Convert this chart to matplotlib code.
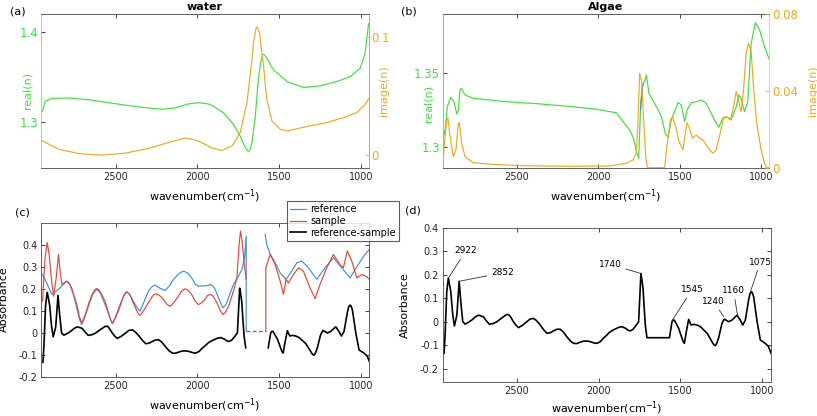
import numpy as np
import matplotlib.pyplot as plt

# ---- (a) water: refractive index ----
wa_re_wn = [2948, 2932, 2891, 2789, 2667, 2504, 2361, 2219, 2137, 2056, 1994, 1933, 1901,
            1840, 1779, 1738, 1707, 1695, 1687, 1678, 1666, 1646, 1626, 1612, 1601, 1590,
            1575, 1534, 1452, 1351, 1249, 1147, 1065, 1004, 974, 953]
wa_re = [1.3117, 1.3227, 1.326, 1.3265, 1.3246, 1.3202, 1.3166, 1.3139, 1.3154, 1.3199,
         1.3213, 1.3199, 1.3172, 1.310, 1.297, 1.284, 1.2713, 1.2680, 1.2669, 1.2690,
         1.2768, 1.306, 1.350, 1.367, 1.375, 1.3745, 1.3706, 1.3577, 1.3448, 1.3382,
         1.340, 1.3448, 1.3503, 1.3596, 1.3762, 1.409]
wa_im_wn = [2948, 2850, 2728, 2586, 2443, 2300, 2178, 2076, 2015, 1982, 1933, 1921, 1850,
            1788, 1738, 1697, 1666, 1656, 1646, 1641, 1636, 1631, 1620, 1612, 1595, 1585,
            1575, 1544, 1493, 1452, 1330, 1208, 1106, 1024, 974, 947]
wa_im = [0.0117, 0.0047, 0.001, -0.0004, 0.0013, 0.0053, 0.0103, 0.0142, 0.0125, 0.0108,
         0.0075, 0.0061, 0.0036, 0.0075, 0.0188, 0.0442, 0.081, 0.096, 0.1036, 0.1075,
         0.1086, 0.1075, 0.1036, 0.093, 0.0753, 0.060, 0.047, 0.0286, 0.0216, 0.0202,
         0.0239, 0.0273, 0.0315, 0.0358, 0.0428, 0.0485]

# ---- (b) algae: refractive index ----
al_re_wn = [2955, 2943, 2927, 2906, 2886, 2869, 2859, 2849, 2843, 2818, 2768, 2563, 2359,
            2155, 2012, 1890, 1849, 1808, 1786, 1763, 1753, 1742, 1730, 1716, 1706, 1690,
            1655, 1614, 1590, 1573, 1553, 1512, 1492, 1471, 1457, 1430, 1400, 1369, 1338,
            1288, 1261, 1237, 1206, 1186, 1155, 1139, 1125, 1104, 1084, 1063, 1037, 1012,
            981, 951]
al_re = [1.3125, 1.3079, 1.3271, 1.3335, 1.3305, 1.3222, 1.3249, 1.3385, 1.3396, 1.3351,
         1.3328, 1.3305, 1.329, 1.3271, 1.3254, 1.3230, 1.317, 1.3113, 1.3060, 1.2955,
         1.2921, 1.3249, 1.3419, 1.3441, 1.3486, 1.3362, 1.3294, 1.3204, 1.3091, 1.3064,
         1.3181, 1.3299, 1.3283, 1.317, 1.3249, 1.3299, 1.3305, 1.3317, 1.3294, 1.3181,
         1.3132, 1.3193, 1.32, 1.3181, 1.3271, 1.3351, 1.3328, 1.3237, 1.3305, 1.3701,
         1.3841, 1.3792, 1.3678, 1.3588]
al_im_wn = [2955, 2943, 2930, 2923, 2910, 2890, 2874, 2859, 2853, 2839, 2818, 2768, 2665,
            2461, 2155, 1930, 1829, 1788, 1768, 1757, 1747, 1735, 1722, 1710, 1700, 1594,
            1583, 1569, 1559, 1546, 1526, 1506, 1482, 1457, 1441, 1424, 1400, 1380, 1359,
            1318, 1298, 1278, 1253, 1232, 1212, 1191, 1171, 1155, 1139, 1125, 1110, 1094,
            1080, 1063, 1049, 1029, 1002, 981, 971, 951]
al_im = [0.0014, 0.0144, 0.0248, 0.0257, 0.0161, 0.0057, 0.0092, 0.0231, 0.0234, 0.0127,
         0.0057, 0.0026, 0.0018, 0.001, 0.0007, 0.0009, 0.0023, 0.004, 0.0075, 0.0248,
         0.0491, 0.0448, 0.0248, 0.0057, 0.0, 0.0, 0.0092, 0.0179, 0.0248, 0.0265, 0.0213,
         0.0135, 0.0092, 0.0234, 0.0205, 0.0153, 0.017, 0.0153, 0.0144, 0.0092, 0.0075,
         0.0092, 0.0179, 0.0262, 0.0265, 0.0248, 0.0318, 0.0396, 0.0344, 0.0291, 0.0404,
         0.0595, 0.0648, 0.0604, 0.0422, 0.0231, 0.0092, 0.0023, 0.0, 0.0]
al_blue_wn = [1742, 1733, 1724]
al_blue = [1.3249, 1.3390, 1.3430]

# ---- (c) absorbance ----
ref_wn = [2948, 2922, 2891, 2850, 2800, 2780, 2759, 2740, 2722, 2708, 2690, 2667, 2640,
          2616, 2595, 2565, 2540, 2520, 2500, 2473, 2450, 2433, 2412, 2392, 2368, 2351,
          2325, 2300, 2280, 2259, 2230, 2198, 2170, 2147, 2115, 2086, 2060, 2035, 2012,
          1994, 1933, 1921, 1905, 1891, 1865, 1844, 1825, 1809, 1779, 1754, 1727, 1711,
          1701, 1701, np.nan,
          1585, 1575, 1554, 1534, 1493, 1457, 1422, 1391, 1361, 1320, 1269, 1218, 1167,
          1116, 1065, 1015, 974, 947]
ref_abs = [0.267, 0.229, 0.176, 0.199, 0.237, 0.220, 0.176, 0.120, 0.065, 0.038, 0.070,
           0.122, 0.178, 0.199, 0.185, 0.13, 0.080, 0.041, 0.075, 0.13, 0.170, 0.188, 0.175,
           0.145, 0.115, 0.1, 0.145, 0.191, 0.210, 0.219, 0.205, 0.194, 0.215, 0.245, 0.270,
           0.283, 0.275, 0.252, 0.222, 0.214, 0.217, 0.222, 0.215, 0.199, 0.150, 0.115,
           0.130, 0.161, 0.222, 0.252, 0.29, 0.344, 0.444, 0.008, np.nan,
           0.451, 0.405, 0.359, 0.336, 0.275, 0.245, 0.283, 0.321, 0.329, 0.298, 0.245,
           0.298, 0.344, 0.298, 0.252, 0.313, 0.359, 0.382]
smp_wn = [2948, 2932, 2919, 2907, 2891, 2879, 2864, 2850, 2840, 2830, 2800, 2785, 2769,
          2738, 2722, 2708, 2690, 2667, 2645, 2630, 2616, 2600, 2585, 2565, 2545, 2532,
          2520, 2500, 2473, 2453, 2442, 2433, 2418, 2405, 2392, 2375, 2362, 2351, 2330,
          2300, 2278, 2265, 2255, 2235, 2222, 2208, 2185, 2167, 2145, 2117, 2095, 2076,
          2058, 2035, 2015, 1994, 1975, 1954, 1938, 1921, 1905, 1880, 1860, 1844, 1830,
          1809, 1779, 1758, 1744, 1736, 1726, 1713, 1701, np.nan,
          1581, 1581, 1554, 1524, 1493, 1473, 1457, 1443, 1412, 1381, 1351, 1310, 1279,
          1249, 1208, 1167, 1127, 1106, 1082, 1055, 1024, 994, 968, 947]
smp_abs = [0.145, 0.344, 0.413, 0.359, 0.229, 0.168, 0.252, 0.359, 0.283, 0.222, 0.237,
           0.228, 0.206, 0.13, 0.075, 0.046, 0.075, 0.13, 0.175, 0.196, 0.203, 0.195,
           0.175, 0.145, 0.095, 0.062, 0.046, 0.070, 0.122, 0.165, 0.183, 0.188, 0.180,
           0.162, 0.138, 0.108, 0.088, 0.081, 0.100, 0.138, 0.165, 0.176, 0.179, 0.173,
           0.165, 0.153, 0.130, 0.122, 0.138, 0.168, 0.193, 0.202, 0.196, 0.176, 0.148,
           0.13, 0.137, 0.153, 0.171, 0.176, 0.170, 0.138, 0.103, 0.084, 0.092, 0.122,
           0.191, 0.252, 0.405, 0.466, 0.421, 0.313, 0.245, np.nan,
           0.008, 0.298, 0.359, 0.313, 0.237, 0.176, 0.245, 0.229, 0.267, 0.298, 0.283,
           0.206, 0.157, 0.222, 0.298, 0.359, 0.313, 0.298, 0.375, 0.329, 0.252, 0.267,
           0.26, 0.245]
gap_wn = [1701, 1581]
gap_abs = [0.008, 0.008]

# ---- (d) reference-sample ----
diff_wn = [2945, 2939, 2929, 2919, 2904, 2892, 2882, 2867, 2853, 2843, 2831, 2817, 2800,
           2776, 2755, 2735, 2705, 2688, 2668, 2645, 2622, 2600, 2582, 2565, 2551, 2538,
           2521, 2505, 2490, 2465, 2439, 2418, 2398, 2380, 2357, 2335, 2316, 2296, 2276,
           2255, 2235, 2214, 2194, 2172, 2153, 2135, 2112, 2095, 2078, 2060, 2041, 2025,
           2010, 1990, 1970, 1950, 1933, 1915, 1898, 1877, 1857, 1835, 1820, 1806, 1790,
           1769, 1755, 1748, 1741, 1735, 1728, 1721, 1714, 1704, 1566, 1551, 1544, 1537,
           1525, 1510, 1492, 1482, 1475, 1463, 1449, 1434, 1418, 1398, 1377, 1336, 1306,
           1296, 1286, 1276, 1266, 1245, 1231, 1204, 1184, 1153, 1133, 1118, 1102, 1082,
           1074, 1067, 1060, 1051, 1040, 1030, 1010, 980, 960, 945]
diff_abs = [-0.134, -0.056, 0.127, 0.186, 0.127, 0.028, -0.018, 0.028, 0.172, 0.085, 0.0,
            -0.01, -0.004, 0.007, 0.020, 0.028, 0.021, 0.005, -0.011, -0.008, 0.0, 0.012,
            0.021, 0.030, 0.031, 0.020, 0.0, -0.015, -0.025, -0.015, 0.0, 0.012, 0.014,
            0.005, -0.014, -0.035, -0.049, -0.047, -0.039, -0.032, -0.032, -0.045, -0.064,
            -0.082, -0.092, -0.093, -0.087, -0.083, -0.082, -0.083, -0.087, -0.091, -0.092,
            -0.085, -0.07, -0.057, -0.045, -0.037, -0.031, -0.024, -0.021, -0.028, -0.036,
            -0.039, -0.033, -0.014, 0.0, 0.10, 0.205, 0.18, 0.142, 0.06, -0.014, -0.068,
            -0.068, 0.0, 0.007, 0.007, -0.008, -0.028, -0.065, -0.085, -0.092, -0.042,
            0.01, -0.014, -0.011, -0.014, -0.021, -0.049, -0.085, -0.097, -0.102, -0.09,
            -0.07, -0.007, 0.011, 0.0, 0.007, 0.028, 0.007, -0.014, 0.007, 0.092, 0.118,
            0.127, 0.125, 0.106, 0.05, 0.0, -0.078, -0.092, -0.106, -0.134]
peak_labels = ['2922', '2852', '1740', '1545', '1240', '1160', '1075']
peak_wn = [2919, 2853, 1741, 1551, 1234, 1150, 1071]
peak_abs = [0.186, 0.172, 0.205, 0.004, 0.021, 0.028, 0.127]
label_wn = [2812, 2588, 1929, 1428, 1296, 1174, 1010]
label_abs = [0.301, 0.208, 0.244, 0.137, 0.085, 0.131, 0.254]

green = '#3ee03e'
orange = '#f2a81d'
blue = '#3c8fe8'
red = '#e8452f'
wn_ticks = [1000, 1500, 2000, 2500]
xlab = 'wavenumber(cm$^{-1}$)'

plt.rcParams['font.family'] = 'DejaVu Sans'


def base(ax, xl, pad=4):
    ax.set_xlim(xl)
    ax.set_xticks(wn_ticks)
    ax.tick_params(direction='in', length=3, width=0.6, labelsize=7, top=True,
                   colors='0.15', pad=3)
    for s in ax.spines.values():
        s.set_linewidth(0.6)
        s.set_color('0.28')
    ax.set_xlabel(xlab, fontsize=8, labelpad=pad)


fig = plt.figure(figsize=(8.17, 4.16), dpi=100)

# (a)
ax = fig.add_axes([0.0506, 0.597, 0.4005, 0.3695])
ax.plot(wa_re_wn, wa_re, color=green, lw=0.85)
base(ax, (2955, 953))
ax.set_ylim(1.249, 1.42)
ax.set_yticks([1.3, 1.4])
ax.set_yticklabels(['1.3', '1.4'])
ax.tick_params(axis='y', right=True, labelcolor=green, labelsize=8.5, pad=2)
ax.set_ylabel('real(n)', color=green, fontsize=8)
ax.yaxis.set_label_coords(-0.028, 0.5)
ax.spines['left'].set_color('#8ab8ee')
ax.spines['right'].set_color(green)
ax.set_title('water', fontsize=8, fontweight='bold', pad=3)
ax2 = ax.twinx()
ax2.plot(wa_im_wn, wa_im, color=orange, lw=0.85)
ax2.set_ylim(-0.011, 0.1195)
ax2.set_yticks([0, 0.1])
ax2.set_yticklabels(['0', '0.1'])
ax2.tick_params(axis='y', direction='in', length=3, width=0.6, labelcolor=orange,
                labelsize=8.5, pad=2, colors=orange)
ax2.set_ylabel('image(n)', color=orange, fontsize=8)
ax2.yaxis.set_label_coords(1.032, 0.5)
for s in ax2.spines.values():
    s.set_visible(False)
fig.text(0.022, 0.973, '(a)', fontsize=8, ha='center', va='center')

# (b)
ax = fig.add_axes([0.5419, 0.597, 0.3997, 0.3695])
ax.plot(al_re_wn, al_re, color=green, lw=0.85)
ax.plot(al_blue_wn, al_blue, color=blue, lw=0.85)
base(ax, (2955, 952))
ax.set_ylim(1.2858, 1.390)
ax.set_yticks([1.3, 1.35])
ax.set_yticklabels(['1.3', '1.35'])
ax.tick_params(axis='y', right=True, labelcolor=green, labelsize=8.5, pad=2)
ax.set_ylabel('real(n)', color=green, fontsize=8)
ax.yaxis.set_label_coords(-0.028, 0.42)
ax.spines['left'].set_color(green)
ax.spines['right'].set_color('#f5c870')
ax.set_title('Algae', fontsize=8, fontweight='bold', pad=3)
ax2 = ax.twinx()
ax2.plot(al_im_wn, al_im, color=orange, lw=0.85)
ax2.set_ylim(0, 0.08)
ax2.set_yticks([0, 0.04, 0.08])
ax2.set_yticklabels(['0', '0.04', '0.08'])
ax2.tick_params(axis='y', direction='in', length=3, width=0.6, labelcolor=orange,
                labelsize=8.5, pad=2, colors=orange)
ax2.set_ylabel('image(n)', color=orange, fontsize=8)
ax2.yaxis.set_label_coords(1.12, 0.5)
for s in ax2.spines.values():
    s.set_visible(False)
fig.text(0.501, 0.973, '(b)', fontsize=8, ha='center', va='center')

# (c)
ax = fig.add_axes([0.0506, 0.0945, 0.4011, 0.3706])
l1, = ax.plot(ref_wn, ref_abs, color=blue, lw=0.85)
l2, = ax.plot(smp_wn, smp_abs, color=red, lw=0.85)
d = np.array(diff_abs, dtype=float)
w = np.array(diff_wn, dtype=float)
cut = np.where(w == 1566)[0][0]
w_c = np.insert(w, cut, np.nan)
d_c = np.insert(d, cut, np.nan)
l3, = ax.plot(w_c, d_c, color='black', lw=1.2)
ax.plot(gap_wn, gap_abs, color='#5a6a88', lw=0.9, ls=(0, (3, 2)))
base(ax, (2955, 949))
ax.set_ylim(-0.2, 0.505)
ax.set_yticks([-0.2, -0.1, 0, 0.1, 0.2, 0.3, 0.4])
ax.set_yticklabels(['-0.2', '-0.1', '0', '0.1', '0.2', '0.3', '0.4'])
ax.tick_params(axis='y', right=True)
ax.set_ylabel('Absorbance', fontsize=8)
ax.yaxis.set_label_coords(-0.10, 0.5)
leg = ax.legend([l1, l2, l3], ['reference', 'sample', 'reference-sample'],
                loc='upper left', bbox_to_anchor=(0.75, 1.139), borderaxespad=0,
                fancybox=False, fontsize=7, handlelength=1.6, labelspacing=0.2,
                borderpad=0.3, handletextpad=0.5)
leg.get_frame().set_edgecolor('0.2')
leg.get_frame().set_linewidth(0.8)
fig.text(0.027, 0.49, '(c)', fontsize=8, ha='center', va='center')

# (d)
ax = fig.add_axes([0.5422, 0.0825, 0.4015, 0.3702])
ax.plot(diff_wn, diff_abs, color='black', lw=1.2)
base(ax, (2952, 945), pad=2.5)
ax.set_ylim(-0.255, 0.4)
ax.set_yticks([-0.2, -0.1, 0, 0.1, 0.2, 0.3, 0.4])
ax.set_yticklabels(['-0.2', '-0.1', '0', '0.1', '0.2', '0.3', '0.4'])
ax.tick_params(axis='y', right=True)
ax.set_ylabel('Absorbance', fontsize=8)
ax.yaxis.set_label_coords(-0.10, 0.5)
for lab, px, py, tx, ty in zip(peak_labels, peak_wn, peak_abs, label_wn, label_abs):
    ax.annotate(lab, xy=(px, py), xytext=(tx, ty), fontsize=6.5, ha='center',
                va='center', arrowprops=dict(arrowstyle='-', lw=0.6, color='0.2',
                                             shrinkA=1, shrinkB=0))
fig.text(0.506, 0.495, '(d)', fontsize=8, ha='center', va='center')

fig.savefig('out.png', dpi=100)
